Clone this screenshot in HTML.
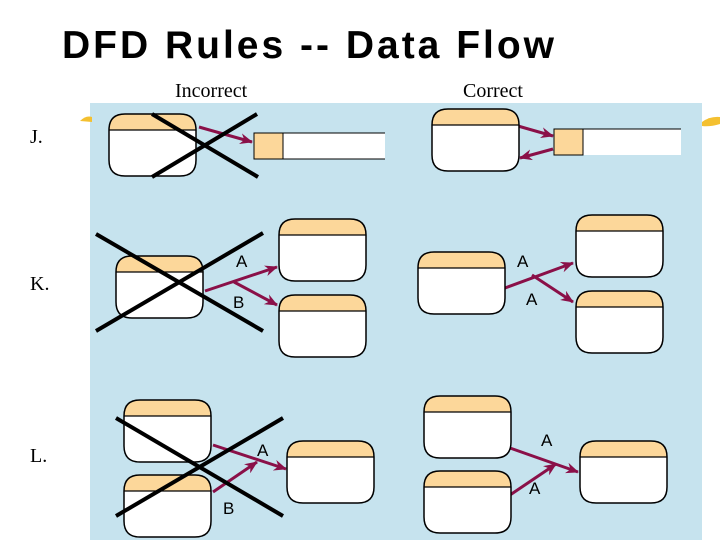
<!DOCTYPE html>
<html><head><style>
body{margin:0;width:720px;height:540px;background:#fff;overflow:hidden}
</style></head><body>
<svg width="720" height="540" xmlns="http://www.w3.org/2000/svg">
<defs>
<marker id="ah" markerWidth="13" markerHeight="11" refX="12" refY="5.5" orient="auto" markerUnits="userSpaceOnUse">
<path d="M0,0 L13,5.5 L0,11 L4,5.5 Z" fill="#8a1048"/></marker>
<g id="p">
<path d="M0,16 Q0,0 16,0 L71,0 Q87,0 87,16 Z" fill="#fcd79a"/>
<path d="M0,16 L87,16 L87,46 Q87,62 71,62 L16,62 Q0,62 0,46 Z" fill="#fff"/>
<path d="M0,46 L0,16 Q0,0 16,0 L71,0 Q87,0 87,16 L87,46 Q87,62 71,62 L16,62 Q0,62 0,46" fill="none" stroke="#000" stroke-width="1.5"/>
<line x1="0" y1="16" x2="87" y2="16" stroke="#000" stroke-width="1.2"/>
</g>
</defs>
<text x="62" y="58" font-family="Liberation Sans, sans-serif" font-weight="bold" font-size="39" letter-spacing="3" fill="#000">DFD Rules -- Data Flow</text>
<text x="175" y="97" font-family="Liberation Serif, serif" font-size="20">Incorrect</text>
<text x="463" y="97" font-family="Liberation Serif, serif" font-size="20">Correct</text>
<text x="30" y="143" font-family="Liberation Serif, serif" font-size="20">J.</text>
<text x="30" y="290" font-family="Liberation Serif, serif" font-size="20">K.</text>
<text x="30" y="462" font-family="Liberation Serif, serif" font-size="20">L.</text>
<rect x="90" y="103" width="612" height="437" fill="#c6e3ee"/>
<path d="M80,121 Q86,115 92,117 L92,122 Z" fill="#f4c030"/>
<path d="M702,122 Q710,116 720,117 L720,124 Q710,127 702,126 Z" fill="#f4c030"/>
<g stroke="#8a1048" stroke-width="3" fill="none" marker-end="url(#ah)">
<line x1="199" y1="127" x2="252" y2="142"/>
<line x1="518" y1="126" x2="553" y2="136"/>
<line x1="553" y1="149" x2="520" y2="158"/>
<line x1="205" y1="291" x2="277" y2="267"/>
<line x1="234" y1="282" x2="277" y2="305"/>
<line x1="505" y1="288" x2="573" y2="263"/>
<line x1="532" y1="275" x2="573" y2="302"/>
<line x1="213" y1="445" x2="286" y2="469"/>
<line x1="213" y1="492" x2="257" y2="462"/>
<line x1="510" y1="448" x2="578" y2="472"/>
<line x1="510" y1="495" x2="556" y2="464"/>
</g>
<use href="#p" x="109" y="114"/>
<rect x="254" y="133" width="131" height="26" fill="#fff"/>
<rect x="254" y="133" width="29" height="26" fill="#fcd79a" stroke="#000" stroke-width="1"/>
<line x1="283" y1="133" x2="385" y2="133" stroke="#000"/><line x1="283" y1="159" x2="385" y2="159" stroke="#000"/>
<use href="#p" x="432" y="109"/>
<rect x="554" y="129" width="127" height="26" fill="#fff"/>
<rect x="554" y="129" width="29" height="26" fill="#fcd79a" stroke="#000" stroke-width="1"/>
<line x1="583" y1="129" x2="681" y2="129" stroke="#000"/>
<use href="#p" x="116" y="256"/>
<use href="#p" x="279" y="219"/>
<use href="#p" x="279" y="295"/>
<use href="#p" x="418" y="252"/>
<use href="#p" x="576" y="215"/>
<use href="#p" x="576" y="291"/>
<use href="#p" x="124" y="400"/>
<use href="#p" x="124" y="475"/>
<use href="#p" x="287" y="441"/>
<use href="#p" x="424" y="396"/>
<use href="#p" x="424" y="471"/>
<use href="#p" x="580" y="441"/>
<g stroke="#000" stroke-width="4">
<line x1="152" y1="114" x2="258" y2="177"/><line x1="152" y1="177" x2="257" y2="114"/>
<line x1="96" y1="234" x2="263" y2="331"/><line x1="96" y1="331" x2="263" y2="233"/>
<line x1="116" y1="418" x2="283" y2="516"/><line x1="116" y1="516" x2="283" y2="418"/>
</g>
<g font-family="Liberation Sans, sans-serif" font-size="17" fill="#000">
<text x="236" y="267">A</text><text x="233" y="308">B</text>
<text x="517" y="267">A</text><text x="526" y="305">A</text>
<text x="257" y="456">A</text><text x="223" y="514">B</text>
<text x="541" y="446">A</text><text x="529" y="494">A</text>
</g>
</svg>
</body></html>
